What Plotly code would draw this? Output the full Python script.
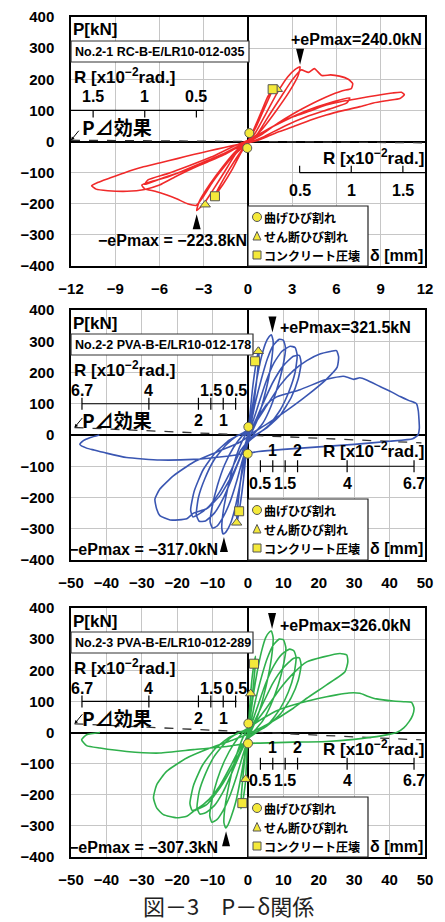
import plotly.graph_objects as go

# ====================== DATA ======================
# δ [mm], P [kN] pairs, one list per loading cycle
# ---- Panel 1 : No.2-1 RC-B-E/LR10-012-035 ----
rc_c1 = [(0, 0), (0.4, 40), (0.9, 95), (1.3, 140), (1.7, 172), (1.5, 148), (1.0, 95), (0.5, 42), (0, 2),
         (-0.5, -38), (-1.1, -92), (-1.7, -138), (-2.3, -176), (-2.0, -150), (-1.3, -92), (-0.6, -40), (0, -2)]
rc_c2 = [(0.5, 28), (1.2, 88), (2.0, 158), (2.7, 208), (3.2, 232), (3.53, 240), (3.4, 212), (2.8, 160), (1.9, 98),
         (1.0, 42), (0.1, 0), (-0.8, -38), (-1.6, -98), (-2.4, -158), (-3.0, -200), (-3.48, -222), (-3.3, -192),
         (-2.6, -138), (-1.7, -80), (-0.8, -30), (0, 0)]
rc_c3 = [(0.6, 22), (1.4, 82), (2.3, 148), (3.0, 198), (3.6, 230), (4.1, 222), (4.5, 234), (5.0, 212), (5.6, 214),
         (6.2, 210), (6.8, 200), (7.1, 186), (7.0, 170), (6.4, 163), (5.3, 143), (4.2, 118), (3.1, 90), (2.0, 58),
         (1.0, 25), (0, -4), (-0.8, -35), (-1.6, -80), (-2.4, -130), (-3.0, -175), (-3.5, -205), (-4.1, -200),
         (-4.8, -185), (-5.5, -172), (-6.3, -160), (-7.0, -152), (-7.2, -140), (-6.5, -128), (-5.5, -115),
         (-4.3, -93), (-3.0, -68), (-1.8, -42), (-0.8, -18), (0, 2)]
rc_c3b = [(1.0, 30), (2.5, 68), (4.0, 100), (5.5, 124), (6.9, 140), (6.7, 124), (5.5, 104), (4.0, 80), (2.5, 50),
          (1.0, 14), (0, -6), (-1.5, -36), (-3.0, -66), (-4.5, -96), (-6.0, -121), (-7.0, -138), (-6.8, -124),
          (-5.5, -104), (-4.0, -78), (-2.5, -50), (-1.0, -16), (0, 4)]
rc_c4 = [(1.0, 30), (2.0, 55), (3.1, 80), (4.2, 98), (5.3, 117), (6.5, 130), (7.6, 139), (8.7, 148), (9.8, 156),
         (10.4, 158), (10.6, 150), (10.3, 138), (9.5, 132), (8.5, 124), (7.6, 112), (6.5, 100), (5.3, 85),
         (4.2, 68), (3.1, 48), (2.0, 30), (1.2, 14), (0.4, 0), (-0.6, -9), (-1.6, -19), (-2.6, -30), (-3.7, -42),
         (-4.8, -55), (-6.0, -69), (-7.2, -83), (-8.4, -101), (-9.4, -118), (-10.2, -132), (-10.6, -142),
         (-10.3, -153), (-9.5, -158), (-8.2, -160), (-7.0, -154), (-6.0, -140), (-4.8, -110), (-3.7, -85),
         (-2.6, -63), (-1.6, -42), (-0.8, -21), (0, -4)]

# ---- Panel 2 : No.2-2 PVA-B-E/LR10-012-178 ----
p2_c1 = [(0, 0), (0.5, 60), (1.2, 140), (2.0, 210), (2.8, 262), (3.2, 280), (3.0, 240), (2.4, 170), (1.6, 95),
         (0.8, 35), (0, -8), (-0.6, -65), (-1.3, -145), (-2.1, -215), (-2.9, -268), (-3.3, -285), (-3.0, -240),
         (-2.3, -165), (-1.4, -85), (-0.6, -25), (0, 8)]
p2_c2 = [(0.6, 40), (1.5, 110), (2.6, 185), (3.8, 250), (5.0, 295), (6.0, 315), (6.6, 321), (7.1, 300), (6.8, 250),
         (5.8, 180), (4.3, 110), (2.7, 50), (1.2, 12), (0, -22), (-1.0, -80), (-2.3, -160), (-3.6, -232),
         (-5.0, -285), (-6.2, -310), (-7.0, -317), (-7.4, -298), (-7.0, -245), (-5.8, -175), (-4.2, -100),
         (-2.5, -42), (-1.0, -5)]
p2_c3 = [(0.5, 22), (2.0, 100), (3.8, 180), (5.5, 245), (7.2, 288), (8.8, 306), (10.0, 303), (10.6, 278),
         (10.0, 228), (8.5, 160), (6.5, 92), (4.2, 38), (1.8, 5), (0, -25), (-1.5, -78), (-3.2, -148), (-5.0, -212),
         (-7.0, -262), (-8.8, -292), (-10.0, -298), (-10.7, -278), (-10.1, -228), (-8.6, -160), (-6.6, -95),
         (-4.1, -40), (-1.6, -2)]
p2_c4 = [(0.6, 20), (2.6, 85), (4.9, 165), (7.3, 230), (9.6, 268), (11.9, 284), (13.3, 280), (13.9, 255),
         (13.3, 200), (11.6, 140), (9.1, 80), (6.0, 32), (3.0, 5), (0, -22), (-2.0, -68), (-4.5, -138),
         (-7.0, -203), (-9.5, -250), (-12.0, -275), (-13.8, -276), (-14.6, -255), (-14.0, -200), (-12.2, -140),
         (-9.6, -80), (-6.2, -32), (-3.0, -2)]
p2_c5 = [(0.8, 18), (4.0, 95), (7.0, 168), (10.0, 222), (12.8, 252), (14.5, 255), (15.0, 230), (14.2, 180),
         (12.2, 120), (9.2, 65), (5.2, 22), (1.0, -8), (-2.0, -48), (-5.0, -118), (-8.0, -182), (-11.0, -228),
         (-14.0, -254), (-15.6, -262), (-16.2, -240), (-15.2, -180), (-12.7, -112), (-9.2, -56), (-5.2, -16),
         (-1.2, 8)]
p2_c6 = [(1.5, 30), (5.3, 94), (9.0, 158), (12.8, 206), (16.6, 238), (20.3, 259), (23.2, 267), (25.0, 270),
         (25.6, 250), (25.2, 217), (22.2, 179), (16.6, 126), (10.9, 78), (5.3, 35), (1.5, 8), (0, -5),
         (-2.3, -23), (-8.9, -55), (-15.4, -87), (-21.0, -130), (-24.9, -173), (-26.3, -205), (-25.8, -237),
         (-24.9, -258), (-22.0, -272), (-17.3, -268), (-15.4, -250), (-11.7, -236), (-7.9, -194), (-4.1, -120),
         (-1.3, -45), (0, -5)]
p2_c7 = [(1.5, 30), (5.3, 98), (8.1, 122), (14.7, 145), (21.3, 175), (24.1, 183), (26.9, 188), (28.5, 183),
         (29.8, 178), (31.6, 183), (33.5, 176), (37.3, 155), (40.5, 138), (43.0, 123), (45.5, 110), (47.6, 100),
         (48.1, 78), (48.3, 50), (48.4, 22), (48.0, 0), (46.5, -12), (40.0, -20), (30.0, -30), (20.0, -38),
         (10.0, -46), (3.0, -53), (0, -58), (-6.0, -68), (-15.4, -78), (-24.9, -80), (-34.3, -72), (-40.0, -58),
         (-43.5, -48), (-45.6, -42), (-47.5, -30), (-46.5, -18), (-44.5, -8), (-42.0, 0)]

# ---- Panel 3 : No.2-3 PVA-B-E/LR10-012-289 ----
p3_c1 = [(0, 0), (0.3, 50), (0.75, 125), (1.2, 180), (1.7, 221), (2.1, 245), (2.0, 210), (1.5, 150), (0.9, 80),
         (0.3, 20), (0, -10), (-0.3, -60), (-0.65, -150), (-1.1, -195), (-1.6, -227), (-2.0, -245), (-1.9, -205),
         (-1.4, -140), (-0.8, -70), (-0.3, -15), (0, 10)]
p3_c2 = [(0.6, 45), (1.5, 120), (2.6, 195), (3.8, 260), (5.0, 305), (6.0, 322), (6.6, 326), (7.1, 305), (6.8, 255),
         (5.8, 185), (4.3, 112), (2.7, 52), (1.2, 12), (0, -20), (-1.0, -78), (-2.2, -155), (-3.5, -225),
         (-4.8, -272), (-5.8, -300), (-6.3, -307), (-6.8, -290), (-6.5, -240), (-5.4, -170), (-3.9, -98),
         (-2.3, -40), (-0.9, -4)]
p3_c3 = [(0.5, 20), (2.0, 98), (3.8, 178), (5.5, 240), (7.2, 282), (8.8, 300), (10.0, 298), (10.7, 272),
         (10.1, 222), (8.6, 155), (6.5, 90), (4.2, 38), (1.8, 5), (0, -22), (-1.5, -75), (-3.2, -140), (-5.0, -200),
         (-7.0, -250), (-8.8, -280), (-10.2, -288), (-10.8, -268), (-10.2, -218), (-8.7, -152), (-6.6, -90),
         (-4.1, -38), (-1.6, -2)]
p3_c4 = [(0.6, 18), (2.6, 80), (4.9, 155), (7.3, 215), (9.6, 252), (11.8, 268), (13.0, 262), (13.6, 240),
         (13.0, 188), (11.4, 130), (9.0, 75), (6.0, 30), (3.0, 5), (0, -20), (-2.0, -62), (-4.5, -128),
         (-7.0, -190), (-9.5, -235), (-12.0, -258), (-13.6, -262), (-14.4, -242), (-13.8, -190), (-12.0, -132),
         (-9.5, -76), (-6.2, -30), (-3.0, -2)]
p3_c5 = [(0.8, 16), (4.0, 88), (7.0, 158), (10.0, 208), (12.8, 238), (14.5, 240), (15.0, 216), (14.2, 168),
         (12.2, 112), (9.2, 60), (5.2, 20), (1.0, -8), (-2.0, -45), (-5.0, -110), (-8.0, -172), (-11.0, -215),
         (-14.0, -242), (-15.8, -250), (-16.4, -228), (-15.4, -170), (-12.9, -106), (-9.3, -52), (-5.2, -15),
         (-1.2, 6)]
p3_c6 = [(1.5, 25), (5.3, 80), (9.0, 140), (12.8, 190), (16.6, 227), (21.3, 243), (26.0, 254), (27.9, 249),
         (28.2, 227), (27.4, 195), (22.2, 153), (16.6, 110), (12.8, 78), (5.3, 25), (1.5, 3), (0, -5),
         (-4.1, -23), (-10.7, -50), (-17.3, -82), (-23.0, -125), (-25.8, -168), (-26.7, -210), (-25.8, -242),
         (-23.9, -264), (-20.2, -274), (-17.3, -269), (-15.4, -253), (-11.7, -232), (-7.9, -178), (-4.1, -104),
         (-1.3, -39), (0, -5)]
p3_c7 = [(1.5, 25), (8.1, 70), (14.7, 95), (22.2, 115), (25.0, 121), (28.5, 127), (31.6, 126), (34.0, 116),
         (36.3, 108), (41.0, 101), (44.0, 99), (46.2, 97), (46.9, 78), (46.5, 55), (45.5, 35), (44.0, 15),
         (42.0, 0), (38.0, -10), (30.0, -22), (22.2, -29), (12.8, -31), (3.4, -34), (0, -35), (-6.0, -45),
         (-15.4, -55), (-24.9, -66), (-34.3, -61), (-41.8, -50), (-45.6, -42), (-47.0, -23), (-45.6, -7),
         (-41.8, 0)]

# crack markers (δ, P)
flex_crack = [[(0.09, 27), (-0.05, -21)], [(0.1, 26), (-0.1, -60)], [(0.1, 29), (0.0, -35)]]
shear_crack = [[(1.99, 168), (-2.9, -203)], [(2.9, 268), (-3.2, -281)], [(0.75, 125), (-0.65, -150)]]
crushing = [[(1.67, 168), (-2.24, -176)], [(2.0, 236), (-2.5, -244)], [(1.7, 221), (-1.6, -227)]]

# maximum loads: (δ at peak, ePmax)
epmax_pos = [(3.53, 240.0), (6.9, 321.5), (6.8, 326.0)]
epmax_neg = [(-3.48, -223.8), (-6.8, -317.0), (-6.2, -307.3)]

# P-Δ effect lines (δ, P)
pdelta = [[(-12, 4), (12, -4)], [(-49, 24), (49, -25)], [(-49, 28), (49, -24)]]

specimens = ["No.2-1 RC-B-E/LR10-012-035", "No.2-2 PVA-B-E/LR10-012-178", "No.2-3 PVA-B-E/LR10-012-289"]
curve_colors = ["#f02a2a", "#3a56b2", "#2fb04c"]
x_limits = [12, 50]
x_ticks = [[-12, -9, -6, -3, 0, 3, 6, 9, 12], [-50, -40, -30, -20, -10, 0, 10, 20, 30, 40, 50]]
p_ticks = [-400, -300, -200, -100, 0, 100, 200, 300, 400]

# drift-angle (R, x10^-2 rad) secondary scales
R_TO_MM = 7.0
rc_r_left_above = [1.5, 1, 0.5]
rc_r_right_below = [0.5, 1, 1.5]
pva_r_left_above = [6.7, 4, 1.5, 0.5]
pva_r_left_below = [2, 1]
pva_r_right_above = [1, 2]
pva_r_right_below = [0.5, 1.5, 4, 6.7]

cycles = [[rc_c1, rc_c2, rc_c3, rc_c3b, rc_c4],
          [p2_c1, p2_c2, p2_c3, p2_c4, p2_c5, p2_c6, p2_c7],
          [p3_c1, p3_c2, p3_c3, p3_c4, p3_c5, p3_c6, p3_c7]]

# ====================== LAYOUT ======================
OFF = 8                      # page body margin of the viewer
W, H = 445 - OFF, 922 - OFF
PX0, PX1 = 71, 425
TOPS = [17, 310, 608]
BOTS = [266, 560, 857]
FONT = "Liberation Sans"
JP = "Noto Sans CJK JP"
YEL = "#f4e93a"


def fx(p):
    return (p - OFF) / W


def fy(p):
    return 1 - (p - OFF) / H


fig = go.Figure()
shapes, anns = [], []
layout = dict(width=W, height=H, margin=dict(l=0, r=0, t=0, b=0, pad=0), paper_bgcolor="white",
              plot_bgcolor="white", showlegend=False)


def txt(t, x, y, size, xanchor="left", family=FONT, bold=True, xref="paper", yref="paper",
        yshift=0, color="black"):
    anns.append(dict(text=t, x=x, y=y, xref=xref, yref=yref, xanchor=xanchor, yanchor="middle",
                     showarrow=False, yshift=yshift, borderpad=0,
                     font=dict(family=family, size=size, color=color, weight="bold" if bold else "normal")))


for i in range(3):
    sfx = "" if i == 0 else str(i + 1)
    xr, yr = "x" + sfx, "y" + sfx
    T, B = TOPS[i], BOTS[i]
    k = 0 if i == 0 else 1
    common = dict(showgrid=True, gridcolor="#c6c6c6", gridwidth=1, zeroline=True, zerolinecolor="black",
                  zerolinewidth=2, showline=True, linecolor="black", linewidth=1.5, mirror=True, ticks="",
                  automargin=False, ticklabeloverflow="allow",
                  tickfont=dict(family=FONT, size=15, color="black", weight="bold"), fixedrange=True)
    layout["xaxis" + sfx] = dict(common, domain=[fx(PX0), fx(PX1)], anchor=yr,
                                 range=[-x_limits[k], x_limits[k]], tickmode="array", tickvals=x_ticks[k],
                                 ticklabelstandoff=8)
    layout["yaxis" + sfx] = dict(common, domain=[fy(B), fy(T)], anchor=xr, range=[-400, 400],
                                 tickmode="array", tickvals=p_ticks, ticklabelstandoff=12)

    # P-Δ dashed line
    fig.add_trace(go.Scatter(x=[p[0] for p in pdelta[i]], y=[p[1] for p in pdelta[i]], xaxis=xr, yaxis=yr,
                             mode="lines", line=dict(color="#333333", width=1.3, dash="dash"), hoverinfo="skip"))
    # hysteresis curve
    pts = [p for c in cycles[i] for p in c]
    fig.add_trace(go.Scatter(x=[p[0] for p in pts], y=[p[1] for p in pts], xaxis=xr, yaxis=yr, mode="lines",
                             line=dict(color=curve_colors[i], width=1.6, shape="spline", smoothing=0.5),
                             hoverinfo="skip"))
    # crack markers
    for data, sym in ((flex_crack[i], "circle"), (shear_crack[i], "triangle-up"), (crushing[i], "square")):
        fig.add_trace(go.Scatter(x=[p[0] for p in data], y=[p[1] for p in data], xaxis=xr, yaxis=yr,
                                 mode="markers", hoverinfo="skip",
                                 marker=dict(symbol=sym, size=9, color=YEL, line=dict(color="#555", width=1))))

    # ePmax triangles (tip anchored at peak values)
    dp, pp = epmax_pos[i]
    dn, pn = epmax_neg[i]
    shapes.append(dict(type="path", xref=xr, yref=yr, xsizemode="pixel", ysizemode="pixel", xanchor=dp,
                       yanchor=pp, path="M -4,18 L 4,18 L 0,2 Z", fillcolor="black", line=dict(width=0),
                       layer="above"))
    shapes.append(dict(type="path", xref=xr, yref=yr, xsizemode="pixel", ysizemode="pixel", xanchor=dn,
                       yanchor=pn, path="M -4,-18 L 4,-18 L 0,-3 Z", fillcolor="black", line=dict(width=0),
                       layer="above"))
    if i == 0:
        txt("+ePmax=%.1fkN" % pp, fx(423), fy(T + 22), 16, xanchor="right")
        txt("\u2212ePmax = \u2212%.1fkN" % abs(pn), fx(248), fy(T + 224), 16, xanchor="right")
    else:
        txt("+ePmax=%.1fkN" % pp, fx(279), fy(T + 17), 16, xanchor="left")
        txt("\u2212ePmax = \u2212%.1fkN" % abs(pn), fx(219), fy(T + 239), 16, xanchor="right")

    # header boxes
    txt("P[kN]", fx(72), fy(T + 13), 17)
    bx = 249 if i == 0 else 253
    shapes.append(dict(type="rect", xref="paper", yref="paper", x0=fx(PX0), x1=fx(bx), y0=fy(T + 45),
                       y1=fy(T + 24), fillcolor="white", line=dict(color="#333", width=1.2), layer="above"))
    txt(specimens[i], fx(74), fy(T + 35), 12.5)

    # R scales
    txt("R [x10<sup>\u22122</sup>rad.]", fx(73), fy(T + 59), 17)
    txt("R [x10<sup>\u22122</sup>rad.]", fx(425), fy(T + 140), 17, xanchor="right")
    if i == 0:
        left_sets = [(rc_r_left_above, 14, (-7, 0))]
        right_sets = [(rc_r_right_below, -18, (0, 7))]
        lx = (-12, -3.0)
        rx = (3.5, 12)
    else:
        left_sets = [(pva_r_left_above, 13, (-6, 6)), (pva_r_left_below, -17, (-6, 6))]
        right_sets = [(pva_r_right_above, 16, (-6, 6)), (pva_r_right_below, -17, (-6, 6))]
        lx = (-6.7 * R_TO_MM, -3.2)
        rx = (3.4, 6.7 * R_TO_MM)
    for (yl, sets, sign, xs) in ((100, left_sets, -1, lx), (-100, right_sets, 1, rx)):
        shapes.append(dict(type="line", xref=xr, yref=yr, x0=xs[0], x1=xs[1], y0=yl, y1=yl,
                           line=dict(color="black", width=1.2), layer="above"))
        for vals, ysh, tk in sets:
            for r in vals:
                xv = sign * r * R_TO_MM
                shapes.append(dict(type="line", xref=xr, yref=yr, x0=xv, x1=xv, ysizemode="pixel",
                                   yanchor=yl, y0=tk[0], y1=tk[1], line=dict(color="black", width=1.2),
                                   layer="above"))
                txt(("%g" % r), xv, yl, 16, xanchor="center", xref=xr, yref=yr, yshift=ysh)

    # P-Δ effect label with arrow
    txt("P\u22bf効果", fx(81), fy(T + 109), 19, family=JP)
    anns.append(dict(x=pdelta[i][0][0], y=pdelta[i][0][1], xref=xr, yref=yr, ax=9, ay=-11, text="",
                     showarrow=True, arrowhead=2, arrowsize=0.7, arrowwidth=1, arrowcolor="black"))

    # legend box
    shapes.append(dict(type="rect", xref="paper", yref="paper", x0=fx(248), x1=fx(368), y0=fy(B),
                       y1=fy(T + 189), fillcolor="white", line=dict(color="#222", width=1.2), layer="above"))
    rows = [T + 200, T + 219, T + 238]
    shapes.append(dict(type="circle", xref="paper", yref="paper", x0=fx(252.5), x1=fx(261.5),
                       y0=fy(rows[0] + 4.5), y1=fy(rows[0] - 4.5), fillcolor=YEL,
                       line=dict(color="#555", width=1), layer="above"))
    shapes.append(dict(type="path", xref="paper", yref="paper",
                       path="M %f,%f L %f,%f L %f,%f Z" % (fx(253), fy(rows[1] + 4), fx(261), fy(rows[1] + 4),
                                                           fx(257), fy(rows[1] - 4.5)),
                       fillcolor=YEL, line=dict(color="#555", width=1), layer="above"))
    shapes.append(dict(type="rect", xref="paper", yref="paper", x0=fx(253), x1=fx(261), y0=fy(rows[2] + 4),
                       y1=fy(rows[2] - 4), fillcolor=YEL, line=dict(color="#555", width=1), layer="above"))
    for rr, lab in zip(rows, ["曲げひび割れ", "せん断ひび割れ", "コンクリート圧壊"]):
        txt(lab, fx(263), fy(rr), 12, family=JP)
    txt("\u03b4 [mm]", fx(424), fy(T + 238), 16, xanchor="right")

# caption
txt("図－3　P－δ関係", fx(228), fy(905), 22, xanchor="center", family=JP, bold=False, color="#222")

layout["shapes"] = shapes
layout["annotations"] = anns
fig.update_layout(**layout)
fig.write_html("out.html")
